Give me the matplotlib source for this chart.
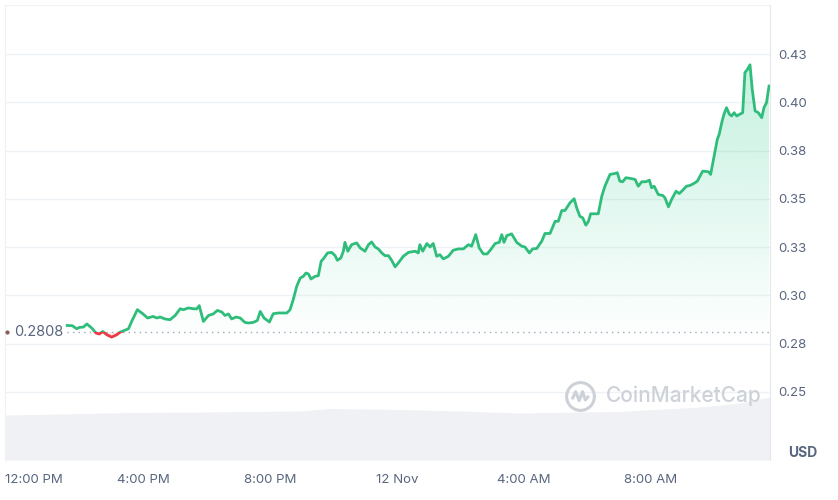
import matplotlib
matplotlib.use("Agg")
import matplotlib.pyplot as plt
import matplotlib.transforms as mtransforms
import numpy as np
from matplotlib.patches import Rectangle
from matplotlib.path import Path

# price, hours after 12:00 PM (11 Nov)
hours = [1.61, 1.77, 1.91, 1.99, 2.12, 2.23, 2.38, 2.52, 2.62, 2.73,
         2.86, 3.01, 3.17, 3.28, 3.40, 3.54, 3.64, 3.82, 3.99, 4.14,
         4.32, 4.43, 4.54, 4.69, 4.85, 5.01, 5.17, 5.27, 5.43, 5.58,
         5.69, 5.77, 5.90, 6.06, 6.21, 6.34, 6.48, 6.58, 6.69, 6.79,
         6.93, 7.06, 7.21, 7.32, 7.47, 7.60, 7.69, 7.81, 7.98, 8.10,
         8.26, 8.53, 8.63, 8.73, 8.84, 8.95, 9.05, 9.13, 9.21, 9.29,
         9.42, 9.52, 9.61, 9.70, 9.81, 9.94, 10.05, 10.12, 10.23, 10.31,
         10.36, 10.45, 10.57, 10.73, 10.84, 10.99, 11.10, 11.20, 11.31, 11.41,
         11.52, 11.62, 11.73, 11.83, 11.94, 12.04, 12.20, 12.36, 12.57, 12.67,
         12.72, 12.81, 12.94, 13.04, 13.14, 13.25, 13.35, 13.46, 13.62, 13.77,
         13.93, 14.09, 14.25, 14.35, 14.48, 14.59, 14.72, 14.84, 14.95, 15.09,
         15.22, 15.30, 15.37, 15.46, 15.61, 15.77, 15.93, 16.03, 16.17, 16.27,
         16.40, 16.56, 16.66, 16.82, 16.98, 17.08, 17.19, 17.29, 17.45, 17.58,
         17.66, 17.76, 17.85, 17.95, 18.03, 18.10, 18.24, 18.34, 18.45, 18.55,
         18.71, 18.87, 18.94, 19.02, 19.11, 19.21, 19.36, 19.50, 19.60, 19.71,
         19.84, 19.95, 20.02, 20.10, 20.23, 20.37, 20.44, 20.55, 20.65, 20.79,
         20.89, 20.97, 21.12, 21.23, 21.35, 21.46, 21.63, 21.81, 21.88, 21.96,
         22.05, 22.09, 22.15, 22.23, 22.30, 22.38, 22.47, 22.54, 22.62, 22.70,
         22.80, 22.89, 22.96, 23.03, 23.12, 23.19, 23.28, 23.38, 23.49, 23.56, 23.64, 23.72]
price = [0.2844, 0.2843, 0.2827, 0.2834, 0.2836, 0.2852, 0.2831, 0.2805, 0.2800, 0.2813,
         0.2796, 0.2784, 0.2796, 0.2810, 0.2818, 0.2827, 0.2865, 0.2926, 0.2905, 0.2883,
         0.2891, 0.2883, 0.2888, 0.2878, 0.2874, 0.2896, 0.2931, 0.2926, 0.2935, 0.2931,
         0.2930, 0.2947, 0.2865, 0.2896, 0.2904, 0.2922, 0.2914, 0.2896, 0.2904, 0.2878,
         0.2888, 0.2883, 0.2860, 0.2857, 0.2860, 0.2870, 0.2917, 0.2883, 0.2862, 0.2905,
         0.2909, 0.2909, 0.2926, 0.2978, 0.3047, 0.3090, 0.3099, 0.3116, 0.3111, 0.3085,
         0.3099, 0.3102, 0.3177, 0.3194, 0.3220, 0.3223, 0.3206, 0.3182, 0.3194, 0.3229,
         0.3275, 0.3229, 0.3263, 0.3272, 0.3246, 0.3229, 0.3263, 0.3277, 0.3251, 0.3241,
         0.3220, 0.3206, 0.3206, 0.3182, 0.3148, 0.3168, 0.3203, 0.3223, 0.3229, 0.3220,
         0.3263, 0.3229, 0.3269, 0.3251, 0.3269, 0.3203, 0.3211, 0.3189, 0.3203, 0.3234,
         0.3241, 0.3241, 0.3263, 0.3255, 0.3315, 0.3246, 0.3215, 0.3215, 0.3237, 0.3269,
         0.3275, 0.3315, 0.3275, 0.3310, 0.3319, 0.3275, 0.3255, 0.3251, 0.3220, 0.3241,
         0.3243, 0.3281, 0.3321, 0.3321, 0.3384, 0.3384, 0.3440, 0.3440, 0.3480, 0.3501,
         0.3454, 0.3410, 0.3402, 0.3364, 0.3384, 0.3423, 0.3423, 0.3423, 0.3514, 0.3566,
         0.3627, 0.3632, 0.3636, 0.3592, 0.3589, 0.3610, 0.3606, 0.3601, 0.3566, 0.3589,
         0.3589, 0.3597, 0.3558, 0.3566, 0.3523, 0.3518, 0.3506, 0.3459, 0.3497, 0.3540,
         0.3528, 0.3540, 0.3566, 0.3570, 0.3580, 0.3592, 0.3644, 0.3641, 0.3627, 0.3696,
         0.3774, 0.3809, 0.3835, 0.3895, 0.3939, 0.3973, 0.3939, 0.3930, 0.3947, 0.3930,
         0.3939, 0.3947, 0.4155, 0.4169, 0.4195, 0.4068, 0.3956, 0.3947, 0.3921, 0.3973, 0.3999, 0.4085]

# volume band at the bottom (arbitrary units)
vol_hours = [-0.35, 1.39, 3.69, 5.80, 8.94, 9.89, 12.09, 13.98, 15.87, 17.76, 19.02, 21.54, 22.80, 23.75]
volume = [9.0, 9.2, 9.5, 9.6, 9.8, 10.3, 10.1, 9.8, 9.4, 9.6, 9.7, 10.6, 11.4, 12.6]

baseline = 0.2808
tick_hours = [4, 8, 12, 16, 20]
tick_labels = ['4:00 PM', '8:00 PM', '12 Nov', '4:00 AM', '8:00 AM']
first_label = '12:00 PM'
ytick_vals = [0.25, 0.275, 0.30, 0.325, 0.35, 0.375, 0.40, 0.425]
ytick_labels = ['0.25', '0.28', '0.30', '0.33', '0.35', '0.38', '0.40', '0.43']

GREEN = '#2fbd7b'
RED = '#ea3943'
TEXT = '#58667e'
GRID = '#eff2f5'

plt.rcParams['font.family'] = ['Inter', 'DejaVu Sans']

xlo, xhi = -0.35, 23.75
ylo, yhi = 0.2147, 0.4505

fig = plt.figure(figsize=(8.38, 5.0), dpi=100)
rect = [5 / 838, 40 / 500, 765 / 838, 455 / 500]

# volume axes underneath
axv = fig.add_axes(rect)
axv.fill_between(vol_hours, volume, color='#f0f1f5', lw=0)
axv.set_xlim(xlo, xhi)
axv.set_ylim(0, 91)
axv.axis('off')

ax = fig.add_axes(rect)
ax.patch.set_alpha(0)

hrs = np.array(hours)
prc = np.array(price)

# green gradient fill above the baseline
poly = ax.fill_between(hrs, prc, baseline, where=prc >= baseline, interpolate=True,
                       facecolor='none', lw=0)
clip = Path.make_compound_path(*poly.get_paths())
grad = np.zeros((256, 1, 4))
grad[:, 0, :3] = matplotlib.colors.to_rgb('#16c784')
grad[:, 0, 3] = np.linspace(0.25, 0.01, 256)
im = ax.imshow(grad, extent=[xlo, xhi, baseline, max(price)], aspect='auto',
               origin='upper', zorder=1)
im.set_clip_path(clip, transform=ax.transData)

# red fill below baseline
ax.fill_between(hrs, prc, baseline, where=prc < baseline, interpolate=True,
                color=RED, alpha=0.13, lw=0, zorder=1)

# line, green above baseline and red below
lg, = ax.plot(hrs, prc, color=GREEN, lw=2.0, zorder=3, solid_joinstyle='round')
lg.set_clip_path(Rectangle((xlo, baseline), xhi - xlo, 1, transform=ax.transData))
lr, = ax.plot(hrs, prc, color=RED, lw=2.0, zorder=3, solid_joinstyle='round')
lr.set_clip_path(Rectangle((xlo, 0), xhi - xlo, baseline, transform=ax.transData))

# baseline
ax.hlines(baseline, hours[0], xhi, colors='#a1a7bb', linestyles=(0, (1, 3)), lw=1.0, zorder=2)
blend = mtransforms.blended_transform_factory(ax.transAxes, ax.transData)
ax.text(0.012, baseline, '0.2808', transform=blend, ha='left', va='center',
        fontsize=10.5, color=TEXT, zorder=4,
        bbox=dict(facecolor='white', edgecolor='none', pad=1.5))
ax.plot([0.003], [baseline], transform=blend, marker='o', ms=2, color='#8a5a5a',
        clip_on=False, zorder=4)

ax.set_xlim(xlo, xhi)
ax.set_ylim(ylo, yhi)

ax.yaxis.tick_right()
ax.set_yticks(ytick_vals, ytick_labels)
ax.tick_params(axis='y', length=0, pad=6, labelsize=9.5, labelcolor=TEXT)
ax.set_xticks(tick_hours, tick_labels)
ax.tick_params(axis='x', length=0, pad=10, labelsize=9.5, labelcolor=TEXT)
ax.annotate(first_label, xy=(0, 0), xycoords='axes fraction', xytext=(0, -10),
            textcoords='offset points', ha='left', va='top', fontsize=9.5, color=TEXT)
ax.grid(axis='y', color=GRID, lw=1)
ax.set_axisbelow(True)

for side in ['top', 'left']:
    ax.spines[side].set_color(GRID)
ax.spines['right'].set_color('#e4e7ec')
ax.spines['bottom'].set_visible(False)

fig.text(803 / 838, 47 / 500, 'USD', ha='center', va='center', fontsize=10,
         fontweight='bold', color=TEXT)

# watermark
wm = '#cdd1d8'
logo = Path([(-0.6, -0.2), (-0.35, 0.35), (-0.1, -0.3), (0.15, 0.35), (0.35, -0.25), (0.6, 0.05)])
ax.plot([(580 - 5) / 765], [(460 - 396) / 455], transform=ax.transAxes, marker='o', ms=20,
        mfc='none', mec=wm, mew=2.2, zorder=4)
ax.plot([(580 - 5) / 765], [(460 - 396) / 455], transform=ax.transAxes, marker=logo, ms=12,
        mfc='none', mec=wm, mew=2.2, zorder=4)
fig.text(606 / 838, (500 - 396) / 500, 'CoinMarketCap', ha='left', va='center',
         fontsize=15, fontweight='medium', color=wm)

fig.savefig('out.png', dpi=100)
